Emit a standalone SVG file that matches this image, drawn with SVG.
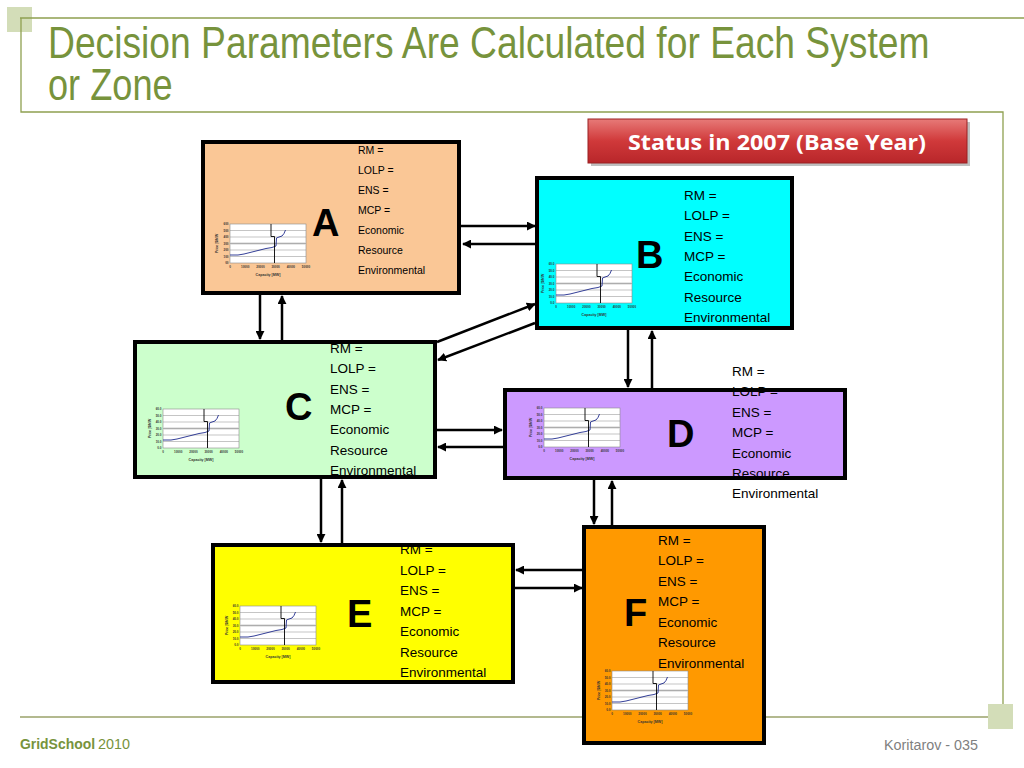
<svg xmlns="http://www.w3.org/2000/svg" xmlns:xlink="http://www.w3.org/1999/xlink" width="1024" height="768" viewBox="0 0 1024 768">
<style>
.title{font-family:"Liberation Sans Narrow","Liberation Sans",Arial,sans-serif;font-size:45px;fill:#77933C}
.deco{stroke:#8FA050;stroke-width:1.3;fill:none}
.p14{font-family:"Liberation Sans",Arial,sans-serif;font-size:13.5px;fill:#000}
.p10{font-family:"Liberation Sans",Arial,sans-serif;font-size:10.5px;fill:#000}
.big{font-family:"Liberation Sans",Arial,sans-serif;font-size:38px;font-weight:bold;fill:#000}
.edge{fill:none;stroke:#000;stroke-width:4}
.conn{fill:none;stroke:#000;stroke-width:2.5;marker-end:url(#ah)}
.ct{font-family:"Liberation Sans",Arial,sans-serif;font-weight:bold;fill:#333}
.grid{stroke:#8a8a8a;stroke-width:0.5}
.foot{font-family:"Liberation Sans Narrow","Liberation Sans",Arial,sans-serif;font-size:14px}
</style>
<defs>
<marker id="ah" viewBox="0 0 10 10" refX="9" refY="5" markerWidth="3.6" markerHeight="3.6" orient="auto">
<path d="M0,0 L10,5 L0,10 z" fill="#000"/>
</marker>
<linearGradient id="red" x1="0" y1="0" x2="0" y2="1">
<stop offset="0" stop-color="#E77A78"/>
<stop offset="0.5" stop-color="#D0393A"/>
<stop offset="1" stop-color="#B8262A"/>
</linearGradient>
<g id="chart">
<rect x="0" y="0" width="76" height="39" fill="#fff" stroke="#8a8a8a" stroke-width="0.6"/>
<line x1="0" y1="19.5" x2="76" y2="19.5" stroke="#cfcfcf" stroke-width="2"/>
<path class="grid" d="M0,6.5H76M0,13H76M0,19.5H76M0,26H76M0,32.5H76"/>
<path d="M0,31 L8,31 L14,30 L22,28 L30,26 L36,24.5 L42,23.5 L46,22 L46.5,14 L49,13 L52,12 L54,9.5 L55.5,6" fill="none" stroke="#1E2A8C" stroke-width="0.9"/>
<path d="M41,0 L41,12.5 L44.5,12.5 L44.5,39" fill="none" stroke="#000" stroke-width="0.9"/>
<g class="ct" font-size="3" text-anchor="middle">
<text x="0" y="44">0</text><text x="15.2" y="44">10000</text><text x="30.4" y="44">20000</text><text x="45.6" y="44">30000</text><text x="60.8" y="44">40000</text><text x="76" y="44">50000</text>
</g>
<text class="ct" x="38" y="52" font-size="3.6" text-anchor="middle">Capacity [MW]</text>
<text class="ct" font-size="3.4" text-anchor="middle" transform="translate(-12,19.5) rotate(-90)">Price [$/MW</text>
</g>
<g id="ylab" class="ct" font-size="3" text-anchor="end">
<text x="-1.5" y="1">60.0</text><text x="-1.5" y="7.5">50.0</text><text x="-1.5" y="14">40.0</text><text x="-1.5" y="20.5">30.0</text><text x="-1.5" y="27">20.0</text><text x="-1.5" y="33.5">10.0</text><text x="-1.5" y="40">0.0</text>
</g>
<g id="ylabA" class="ct" font-size="3" text-anchor="end">
<text x="-1.5" y="1">600</text><text x="-1.5" y="7.5">500</text><text x="-1.5" y="14">400</text><text x="-1.5" y="20.5">300</text><text x="-1.5" y="27">200</text><text x="-1.5" y="33.5">100</text><text x="-1.5" y="40">00</text>
</g>
</defs>
<rect width="1024" height="768" fill="#fff"/>
<g id="decor">
<rect x="7" y="7" width="25" height="25" fill="#D3DDB8"/>
<path class="deco" d="M20,18 H1024 M21,18 V112 H1003 V716"/>
<line x1="20" y1="717" x2="1010" y2="717" stroke="#B3B98F" stroke-width="2"/>
<rect x="988" y="704" width="25" height="25" fill="#D3DDB8"/>
</g>
<g id="title">
<text class="title" transform="translate(48,58) scale(0.82,1)" textLength="1075" lengthAdjust="spacingAndGlyphs">Decision Parameters Are Calculated for Each System</text>
<text class="title" transform="translate(48,100) scale(0.82,1)" textLength="152" lengthAdjust="spacingAndGlyphs">or Zone</text>
</g>
<g id="banner">
<rect x="591" y="122" width="379" height="44" fill="#000" opacity="0.25"/>
<rect x="588" y="119" width="379" height="44" fill="url(#red)" stroke="#9A2022" stroke-width="1"/>
<text x="777" y="150" text-anchor="middle" font-family="'Open Sans','Liberation Sans',sans-serif" font-weight="bold" font-size="21" fill="#fff" textLength="298" lengthAdjust="spacingAndGlyphs">Status in 2007 (Base Year)</text>
</g>
<g id="connectors">
<path class="conn" d="M461,226 L535,226"/>
<path class="conn" d="M537,244 L463,244"/>
<path class="conn" d="M260,295 L260,339"/>
<path class="conn" d="M282,340 L282,296"/>
<path class="conn" d="M437,342 L535,304"/>
<path class="conn" d="M535,323 L438,360"/>
<path class="conn" d="M628,330 L628,387"/>
<path class="conn" d="M652,388 L652,331"/>
<path class="conn" d="M437,430 L502,430"/>
<path class="conn" d="M503,447 L438,447"/>
<path class="conn" d="M321,479 L321,542"/>
<path class="conn" d="M342,543 L342,480"/>
<path class="conn" d="M594,480 L594,524"/>
<path class="conn" d="M612,525 L612,481"/>
<path class="conn" d="M583,570 L516,570"/>
<path class="conn" d="M515,588 L582,588"/>
</g>
<g id="node-A">
<rect x="203" y="142" width="256" height="151" fill="#FAC796"/>
<use href="#chart" xlink:href="#chart" x="230" y="224"/><use href="#ylabA" xlink:href="#ylabA" x="230" y="224"/>
<text class="big" x="312" y="236">A</text>
<g class="p10"><text x="358" y="154">RM =</text><text x="358" y="174">LOLP =</text><text x="358" y="194">ENS =</text><text x="358" y="214">MCP =</text><text x="358" y="234">Economic</text><text x="358" y="254">Resource</text><text x="358" y="274">Environmental</text></g>
<rect class="edge" x="203" y="142" width="256" height="151"/>
</g>
<g id="node-B">
<rect x="537" y="178" width="255" height="150" fill="#00FFFF"/>
<use href="#chart" xlink:href="#chart" x="556" y="264"/><use href="#ylab" xlink:href="#ylab" x="556" y="264"/>
<text class="big" x="636" y="268">B</text>
<g class="p14"><text x="684" y="200">RM =</text><text x="684" y="220.4">LOLP =</text><text x="684" y="240.7">ENS =</text><text x="684" y="261">MCP =</text><text x="684" y="281.4">Economic</text><text x="684" y="301.7">Resource</text><text x="684" y="322">Environmental</text></g>
<rect class="edge" x="537" y="178" width="255" height="150"/>
</g>
<g id="node-C">
<rect x="135" y="342" width="300" height="135" fill="#CCFFCC"/>
<use href="#chart" xlink:href="#chart" x="163" y="409"/><use href="#ylab" xlink:href="#ylab" x="163" y="409"/>
<text class="big" x="285" y="420">C</text>
<g class="p14"><text x="330" y="352.7">RM =</text><text x="330" y="373.1">LOLP =</text><text x="330" y="393.5">ENS =</text><text x="330" y="413.9">MCP =</text><text x="330" y="434.3">Economic</text><text x="330" y="454.7">Resource</text><text x="330" y="475.1">Environmental</text></g>
<rect class="edge" x="135" y="342" width="300" height="135"/>
</g>
<g id="node-D">
<rect x="505" y="390" width="340" height="88" fill="#CC99FF"/>
<use href="#chart" xlink:href="#chart" x="544" y="408"/><use href="#ylab" xlink:href="#ylab" x="544" y="408"/>
<text class="big" x="667" y="447">D</text>
<g class="p14"><text x="732" y="376">RM =</text><text x="732" y="396.4">LOLP =</text><text x="732" y="416.8">ENS =</text><text x="732" y="437.2">MCP =</text><text x="732" y="457.6">Economic</text><text x="732" y="478">Resource</text><text x="732" y="498.4">Environmental</text></g>
<rect class="edge" x="505" y="390" width="340" height="88"/>
</g>
<g id="node-E">
<rect x="213" y="545" width="300" height="137" fill="#FFFF00"/>
<use href="#chart" xlink:href="#chart" x="240" y="606"/><use href="#ylab" xlink:href="#ylab" x="240" y="606"/>
<text class="big" x="347" y="627">E</text>
<g class="p14"><text x="400" y="554.3">RM =</text><text x="400" y="574.8">LOLP =</text><text x="400" y="595.3">ENS =</text><text x="400" y="615.8">MCP =</text><text x="400" y="636.3">Economic</text><text x="400" y="656.8">Resource</text><text x="400" y="677.3">Environmental</text></g>
<rect class="edge" x="213" y="545" width="300" height="137"/>
</g>
<g id="node-F">
<rect x="584" y="527" width="180" height="216" fill="#FF9900"/>
<use href="#chart" xlink:href="#chart" x="612" y="671"/><use href="#ylab" xlink:href="#ylab" x="612" y="671"/>
<text class="big" x="624" y="626">F</text>
<g class="p14"><text x="658" y="545">RM =</text><text x="658" y="565.4">LOLP =</text><text x="658" y="585.9">ENS =</text><text x="658" y="606.3">MCP =</text><text x="658" y="626.8">Economic</text><text x="658" y="647.2">Resource</text><text x="658" y="667.7">Environmental</text></g>
<rect class="edge" x="584" y="527" width="180" height="216"/>
</g>
<g id="footer">
<text class="foot" x="20" y="749" font-weight="bold" fill="#77933C" textLength="75" lengthAdjust="spacingAndGlyphs">GridSchool</text>
<text class="foot" x="98" y="749" fill="#77933C" textLength="32" lengthAdjust="spacingAndGlyphs">2010</text>
<text class="foot" x="978" y="750" text-anchor="end" fill="#7F7F7F" textLength="94" lengthAdjust="spacingAndGlyphs">Koritarov  - 035</text>
</g>
</svg>
